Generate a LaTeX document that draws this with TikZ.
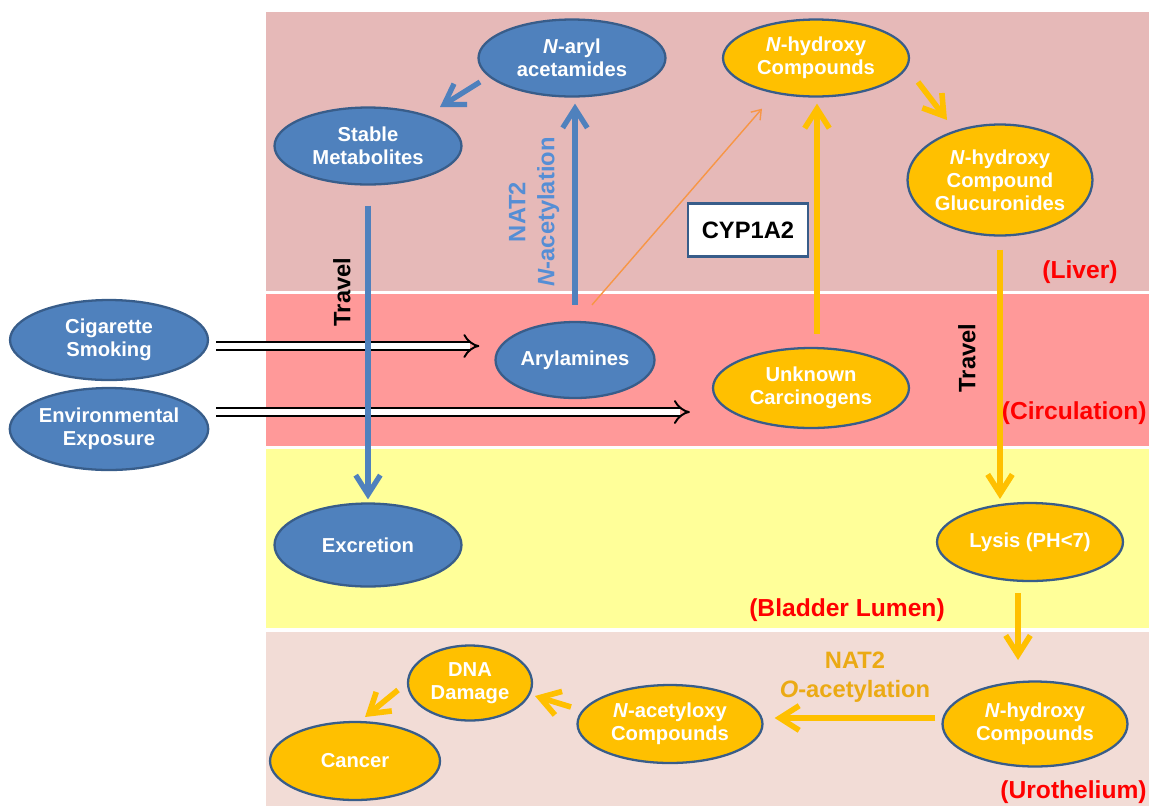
\documentclass[tikz,border=0pt]{standalone}
\usepackage{fontspec}
\setmainfont{Liberation Sans}
\usetikzlibrary{arrows.meta,shapes.geometric,calc}
\definecolor{bfill}{HTML}{4F81BD}
\definecolor{bdraw}{HTML}{385D8A}
\definecolor{ofill}{HTML}{FFC000}
\definecolor{liverc}{HTML}{E6B9B8}
\definecolor{circc}{HTML}{FF9999}
\definecolor{bladc}{HTML}{FFFF99}
\definecolor{uroc}{HTML}{F2DCD6}
\definecolor{nblue}{HTML}{558ED5}
\definecolor{ngold}{HTML}{EBAA14}
\definecolor{thinor}{HTML}{F79646}
\begin{document}
\begin{tikzpicture}[x=0.02cm,y=-0.02cm,
 el/.style={ellipse, draw=bdraw, line width=1.3pt, inner sep=0pt, text=white,
   font=\fontsize{11.5}{13}\selectfont\bfseries, align=center},
 bnode/.style={el, fill=bfill},
 onode/.style={el, fill=ofill},
 barrow/.style={draw=bfill, line width=3pt, -{Straight Barb[length=11pt,width=14pt]}},
 oarrow/.style={draw=ofill, line width=3.2pt, -{Straight Barb[length=11pt,width=14pt]}},
 thinarrow/.style={draw=thinor, line width=0.8pt, -{Straight Barb[length=5pt,width=7pt]}},
 dblarrow/.style={draw=black, double=white, line width=1.1pt, double distance=3.6pt, -{Implies[length=6pt,width=12pt]}},
 region/.style={text=red, font=\fontsize{14}{16}\selectfont\bfseries, inner sep=0pt},
 travel/.style={font=\fontsize{13.5}{16}\selectfont\bfseries, rotate=90},
 cypbox/.style={draw=bdraw, line width=1.5pt, fill=white, minimum width=2.4cm, minimum height=1.06cm,
   font=\fontsize{13.5}{16}\selectfont\bfseries}
]
\useasboundingbox (0,0) rectangle (1149,809);
% bands
\fill[liverc] (266,12) rectangle (1149,291);
\fill[circc] (266,294) rectangle (1149,446);
\fill[bladc] (266,449) rectangle (1149,628);
\fill[uroc] (266,632) rectangle (1149,806);

% nodes
\node[bnode, minimum width=3.74cm, minimum height=1.54cm] (naryl) at (572,58) {\textit{N}-aryl\\acetamides};
\node[bnode, minimum width=3.74cm, minimum height=1.54cm] (stable) at (368,146) {Stable\\Metabolites};
\node[onode, minimum width=3.72cm, minimum height=1.54cm] (nhyd) at (816,58) {\textit{N}-hydroxy\\Compounds};
\node[onode, minimum width=3.7cm, minimum height=2.22cm] (gluc) at (1000,180) {\textit{N}-hydroxy\\Compound\\Glucuronides};
\node[cypbox] (cyp) at (748,230) {CYP1A2};
\node[bnode, minimum width=3.96cm, minimum height=1.6cm] (cig) at (109,340) {Cigarette\\Smoking};
\node[bnode, minimum width=3.96cm, minimum height=1.64cm] (env) at (109,429) {Environmental\\Exposure};
\node[bnode, minimum width=3.18cm, minimum height=1.52cm] (aryl) at (575,360) {Arylamines};
\node[onode, minimum width=3.92cm, minimum height=1.6cm] (unk) at (811,388) {Unknown\\Carcinogens};
\node[bnode, minimum width=3.74cm, minimum height=1.66cm] (excr) at (368,545) {Excretion};
\node[onode, minimum width=3.72cm, minimum height=1.56cm] (lysis) at (1030,542) {Lysis (PH<7)};
\node[onode, minimum width=3.7cm, minimum height=1.7cm] (nhydb) at (1035,724) {\textit{N}-hydroxy\\Compounds};
\node[onode, minimum width=3.7cm, minimum height=1.56cm] (nacet) at (670,724) {\textit{N}-acetyloxy\\Compounds};
\node[onode, minimum width=2.48cm, minimum height=1.5cm] (dna) at (470,683) {DNA\\Damage};
\node[onode, minimum width=3.4cm, minimum height=1.56cm] (cancer) at (355,761) {Cancer};

% double arrows (under the travel line)
\draw[dblarrow] ($(cig.east)+(7,6)$) -- ($(aryl.west)+(-15,-14)$);
\draw[dblarrow] ($(env.east)+(7,-17)$) -- ($(unk.west)+(-22,24)$);

% blue arrows
\draw[barrow] ($(naryl)+(-92,24)$) -- ($(stable)+(72,-39)$);
\draw[barrow] ($(aryl.north)+(0,-16)$) -- ($(naryl.south)+(3,6)$);
\draw[barrow] ($(stable.south)+(0,20)$) -- ($(excr.north)+(0,-3)$);

% thin orange
\draw[thinarrow] ($(aryl.north)+(17,-16)$) -- ($(nhyd.south)+(-54,11)$);

% orange arrows
\draw[oarrow] ($(unk.north)+(6,-13)$) -- ($(nhyd.south)+(1,6)$);
\draw[oarrow] ($(nhyd)+(102,24)$) -- ($(gluc)+(-53,-60)$);
\draw[oarrow] ($(gluc.south)+(0,13)$) -- ($(lysis)+(-30,-43)$);
\draw[oarrow] ($(lysis)+(-12,51)$) -- ($(nhydb)+(-17,-64)$);
\draw[oarrow] ($(nhydb.west)+(-6,-6)$) -- ($(nacet.east)+(11,-6)$);
\draw[oarrow] ($(nacet)+(-99,-17)$) -- ($(dna)+(65,13)$);
\draw[oarrow] ($(dna)+(-72,7)$) -- ($(cancer)+(10,-44)$);

% labels
\node[travel] (trav1) at (342,292) {Travel};
\node[travel] (trav2) at (967,358) {Travel};
\node[rotate=90, text=nblue, font=\fontsize{13.5}{16.5}\selectfont\bfseries, align=center] (nat2a) at (534,212) {NAT2\\\textit{N}-acetylation};
\node[text=ngold, font=\fontsize{13.5}{16.5}\selectfont\bfseries, align=center] (nat2b) at (855,677) {NAT2\\\textit{O}-acetylation};
\node[region] (liverl) at (1080,272) {(Liver)};
\node[region, anchor=east] (circl) at (1147,413) {(Circulation)};
\node[region] (bladl) at (847,610) {(Bladder Lumen)};
\node[region, anchor=east] (urol) at (1147,792) {(Urothelium)};
\end{tikzpicture}
\end{document}
